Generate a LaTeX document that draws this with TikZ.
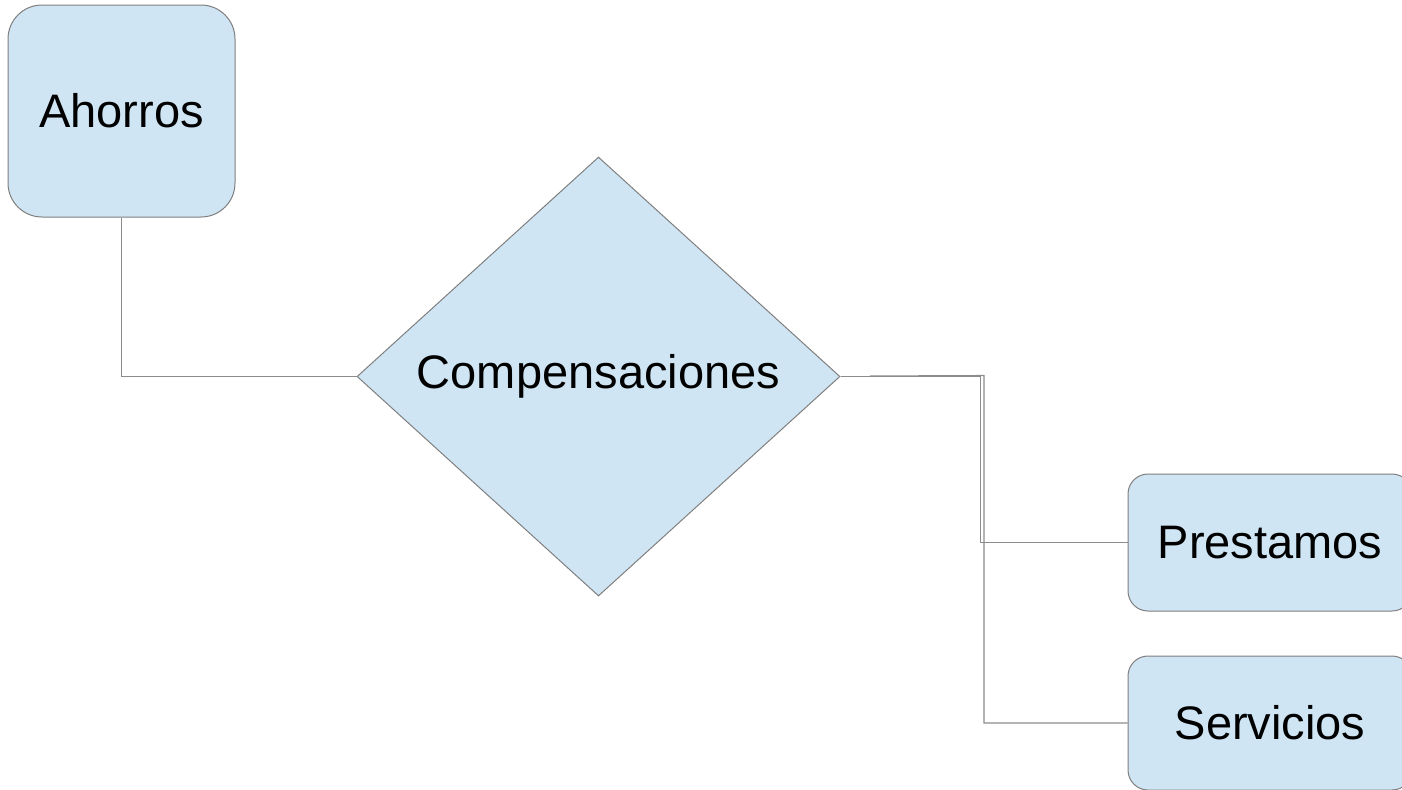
\documentclass[tikz,border=0pt]{standalone}
\usepackage{fontspec}
\setmainfont{Liberation Sans}
\usetikzlibrary{shapes.geometric}
\definecolor{boxfill}{HTML}{CFE5F3}
\definecolor{boxline}{HTML}{7F7F7F}
\definecolor{conline}{HTML}{8C8C8C}
\tikzset{
  box/.style={draw=boxline, fill=boxfill, line width=0.5pt, rounded corners=#1, inner sep=0pt,
    font=\fontsize{23.5}{28}\selectfont},
  dia/.style={draw=boxline, fill=boxfill, line width=0.5pt, diamond, inner sep=0pt,
    minimum width=241.5pt, minimum height=219.5pt, font=\fontsize{23.5}{28}\selectfont},
  con/.style={draw=conline, line width=0.55pt}
}
\begin{document}
\begin{tikzpicture}[x=0.5pt,y=-0.5pt]
\useasboundingbox (0,0) rectangle (1402,789);
\clip (0,0) rectangle (1402,789);
\node[box=17pt, minimum width=113.5pt, minimum height=106pt] (ah) at (121.5,111) {Ahorros};
\node[dia] (comp) at (598.5,376.5) {Compensaciones};
\node[box=10pt, minimum width=142pt, minimum height=68.5pt] (pre) at (1270,542.5) {Prestamos};
\node[box=10pt, minimum width=142pt, minimum height=67pt] (ser) at (1270,723) {Servicios};
\coordinate (s2) at (870,376);
\draw[con] (ah.south) |- (comp.west);
\draw[con] (comp.east) -- (980.5,376.5) |- (pre.west);
\draw[con] (s2) -- (984,375.5) |- (ser.west);
\end{tikzpicture}
\end{document}
